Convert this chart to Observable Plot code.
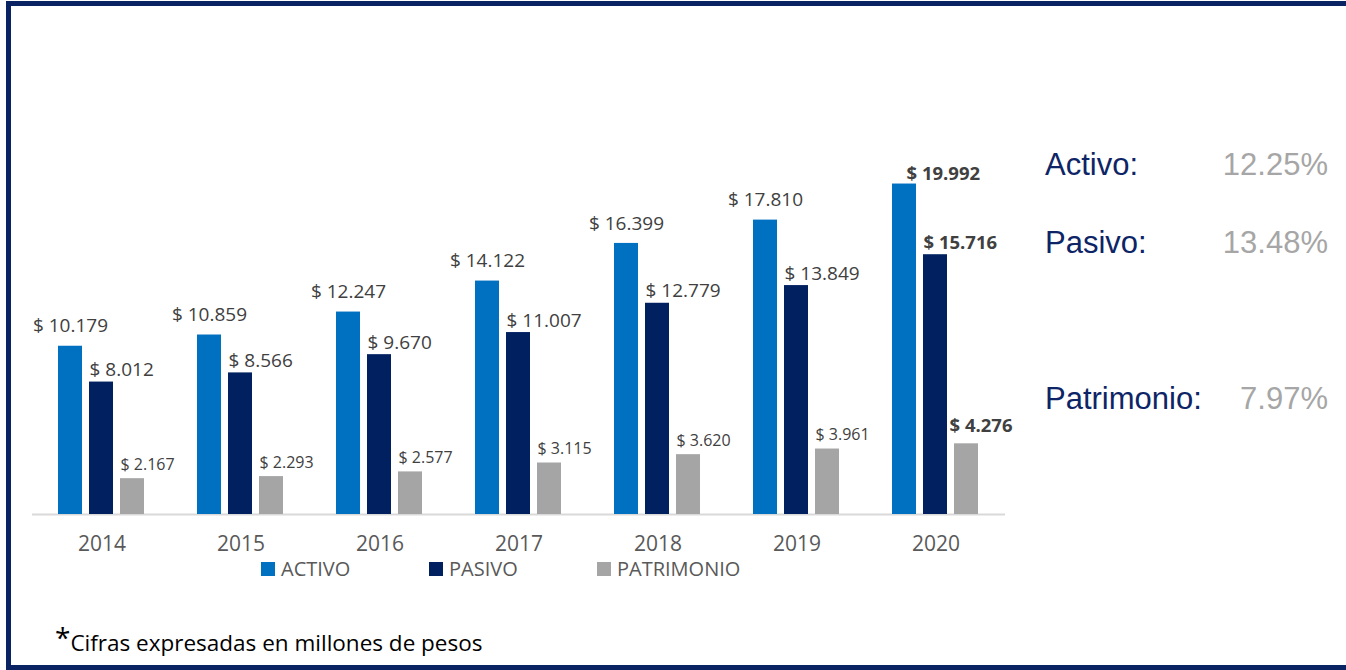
<!DOCTYPE html>
<html>
<head>
<meta charset="utf-8">
<script src="https://cdn.jsdelivr.net/npm/d3@7"></script>
<script src="https://cdn.jsdelivr.net/npm/@observablehq/plot@0.6"></script>
<style>
  html, body { margin: 0; padding: 0; background: #fff; overflow: hidden; }
  #wrap { position: relative; width: 1346px; height: 670px; overflow: hidden; font-family: "Open Sans", sans-serif; }
  #wrap > svg { position: absolute; left: 0; top: 0; }
  .legend { position: absolute; left: 261px; top: 559px; display: flex; font-size: 20px; line-height: 20px; color: #595959; }
  .legend .item { width: 168px; display: flex; align-items: center; white-space: nowrap; }
  .legend .sw { width: 14px; height: 14px; margin-right: 6px; flex: none; }
  .stat { position: absolute; left: 1045px; width: 283px; height: 31px; font-family: "Liberation Sans", Arial, sans-serif; font-size: 31px; line-height: 31px; white-space: nowrap; }
  .stat .lab { position: absolute; left: 0; color: #0d2566; }
  .stat .val { position: absolute; right: 0; color: #a6a6a6; }
  .note { position: absolute; left: 55px; top: 628px; font-size: 22.5px; line-height: 30px; color: #000; white-space: nowrap; }
  .note .ast { font-size: 28px; line-height: 1px; position: relative; top: -3px; }
</style>
</head>
<body>
<div id="wrap">
  <svg id="frame" width="1346" height="670" style="pointer-events:none">
    <path d="M1346,3.5 H8.5 V667.5 H1346" fill="none" stroke="#0a2363" stroke-width="5"/>
  </svg>
</div>
<script>
// ---- data ----
const years = ["2014", "2015", "2016", "2017", "2018", "2019", "2020"];
const series = ["ACTIVO", "PASIVO", "PATRIMONIO"];
const activo = [10179, 10859, 12247, 14122, 16399, 17810, 19992];
const pasivo = [8012, 8566, 9670, 11007, 12779, 13849, 15716];
const patrimonio = [2167, 2293, 2577, 3115, 3620, 3961, 4276];
const seriesColors = ["#0070C0", "#002060", "#A5A5A5"];
const growthLabels = ["Activo:", "Pasivo:", "Patrimonio:"];
const growthValues = ["12.25%", "13.48%", "7.97%"];
const footnote = "Cifras expresadas en millones de pesos";

// ---- table ----
const valuesBySeries = [activo, pasivo, patrimonio];
const rows = years.flatMap((year, i) =>
  series.map((s, j) => ({year, series: s, value: valuesBySeries[j][i]}))
);
const locale = d3.formatLocale({decimal: ",", thousands: ".", grouping: [3], currency: ["$", ""]});
const fmt = locale.format(",");
const label = d => "$ " + fmt(d.value);
const lastYear = years[years.length - 1];
const pick = (s, last) => rows.filter(d => d.series === s && (d.year === lastYear) === last);
const common = {fx: "year", x: "series", y: "value", text: label, fill: "#404040", lineAnchor: "middle"};

const chart = Plot.plot({
  width: 1346,
  height: 670,
  marginLeft: 30,
  marginRight: 339,
  marginTop: 183.4,
  marginBottom: 156,
  style: {fontFamily: "'Open Sans', sans-serif", color: "#595959", background: "transparent"},
  fx: {domain: years, padding: 0, label: null},
  x: {domain: series, paddingInner: 0.215, paddingOuter: 0.844, axis: null},
  y: {domain: [0, 20000], axis: null},
  color: {domain: series, range: seriesColors},
  marks: [
    Plot.ruleY([0], {stroke: "#d9d9d9", strokeWidth: 2}),
    Plot.barY(rows, {fx: "year", x: "series", y: "value", fill: "series"}),
    Plot.text(pick("ACTIVO", false), {...common, fontSize: 19, dy: -20}),
    Plot.text(pick("PASIVO", false), {...common, fontSize: 19, textAnchor: "start", dx: -12, dy: -12}),
    Plot.text(pick("PATRIMONIO", false), {...common, fontSize: 16, textAnchor: "start", dx: -12, dy: -14}),
    Plot.text(pick("ACTIVO", true), {...common, fontSize: 18.5, fontWeight: "bold", textAnchor: "start", dx: 2, dy: -10}),
    Plot.text(pick("PASIVO", true), {...common, fontSize: 18.5, fontWeight: "bold", textAnchor: "start", dx: -12, dy: -12}),
    Plot.text(pick("PATRIMONIO", true), {...common, fontSize: 18.5, fontWeight: "bold", textAnchor: "start", dx: -17, dy: -18}),
    Plot.axisFx({anchor: "bottom", tickSize: 0, tickPadding: 22, fontSize: 21, label: null})
  ]
});

const wrap = document.getElementById("wrap");
wrap.insertBefore(chart, wrap.firstChild);

// legend
const legend = document.createElement("div");
legend.className = "legend";
series.forEach((s, i) => {
  const item = document.createElement("div");
  item.className = "item";
  const sw = document.createElement("span");
  sw.className = "sw";
  sw.style.background = seriesColors[i];
  const t = document.createElement("span");
  t.textContent = s;
  item.appendChild(sw);
  item.appendChild(t);
  legend.appendChild(item);
});
wrap.appendChild(legend);

// growth stats
const statTops = [148.7, 226.7, 382.7];
growthLabels.forEach((g, i) => {
  const div = document.createElement("div");
  div.className = "stat";
  div.style.top = statTops[i] + "px";
  const a = document.createElement("span");
  a.className = "lab";
  a.textContent = g;
  const b = document.createElement("span");
  b.className = "val";
  b.textContent = growthValues[i];
  div.appendChild(a);
  div.appendChild(b);
  wrap.appendChild(div);
});

// footnote
const note = document.createElement("div");
note.className = "note";
const ast = document.createElement("span");
ast.className = "ast";
ast.textContent = "*";
note.appendChild(ast);
note.appendChild(document.createTextNode(footnote));
wrap.appendChild(note);
</script>
</body>
</html>
